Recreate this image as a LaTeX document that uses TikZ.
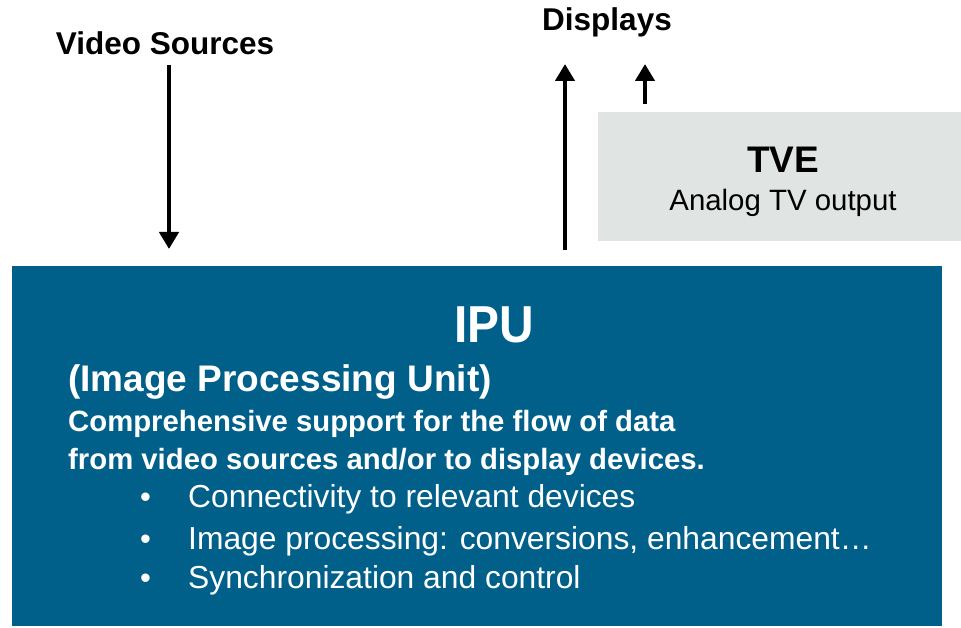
\documentclass[tikz,border=0pt]{standalone}
\usepackage{fontspec}
\setmainfont{Liberation Sans}
\usetikzlibrary{arrows.meta}
\definecolor{ipublue}{RGB}{0,96,138}
\definecolor{tvegray}{RGB}{224,228,226}
\tikzset{
  flow/.style={line width=4.5pt,-{Triangle[length=17pt,width=19pt]}},
  lbl/.style={inner sep=0pt,anchor=base west,text=white}
}
\begin{document}
\begin{tikzpicture}[x=1pt,y=-1pt]
\useasboundingbox (0,0) rectangle (961,628);
\fill[ipublue] (12,266) rectangle (942,626);
\fill[tvegray] (598,112) rectangle (961,241);
\node[inner sep=0pt,anchor=base] (vs) at (165,55) {\fontsize{31.5}{34}\selectfont\bfseries Video Sources};
\node[inner sep=0pt,anchor=base] (disp) at (607,31) {\fontsize{31.5}{34}\selectfont\bfseries Displays};
\node[inner sep=0pt,anchor=base] (tve) at (783,173) {\fontsize{37}{40}\selectfont\bfseries TVE};
\node[inner sep=0pt,anchor=base] (ana) at (783,211) {\fontsize{29.4}{32}\selectfont Analog TV output};
\coordinate (vsA) at (169,65);
\coordinate (vsB) at (169,249);
\coordinate (dA) at (565,250);
\coordinate (dB) at (565,64);
\coordinate (tA) at (645,104);
\coordinate (tB) at (645,64);
\draw[flow] (vsA) -- (vsB);
\draw[flow] (dA) -- (dB);
\draw[flow] (tA) -- (tB);
\node[inner sep=0pt,anchor=base,text=white,xscale=0.92] (ipu) at (494,342) {\fontsize{52}{56}\selectfont\bfseries IPU};
\node[lbl] (ipn) at (68,391) {\fontsize{37}{40}\selectfont\bfseries (Image Processing Unit)};
\node[lbl] (c1) at (68,431) {\fontsize{29.3}{32}\selectfont\bfseries Comprehensive support for the flow of data};
\node[lbl] (c2) at (68,469) {\fontsize{29.3}{32}\selectfont\bfseries from video sources and/or to display devices.};
\node[lbl] (b1d) at (140,507) {\fontsize{31}{34}\selectfont •};
\node[lbl] (b1) at (188,507) {\fontsize{31.8}{34}\selectfont Connectivity to relevant devices};
\node[lbl] (b2d) at (140,549) {\fontsize{31}{34}\selectfont •};
\node[lbl] (b2) at (188,549) {\fontsize{31.8}{34}\selectfont Image processing: conversions, enhancement…};
\node[lbl] (b3d) at (140,588) {\fontsize{31}{34}\selectfont •};
\node[lbl] (b3) at (188,588) {\fontsize{31.8}{34}\selectfont Synchronization and control};
\end{tikzpicture}
\end{document}
